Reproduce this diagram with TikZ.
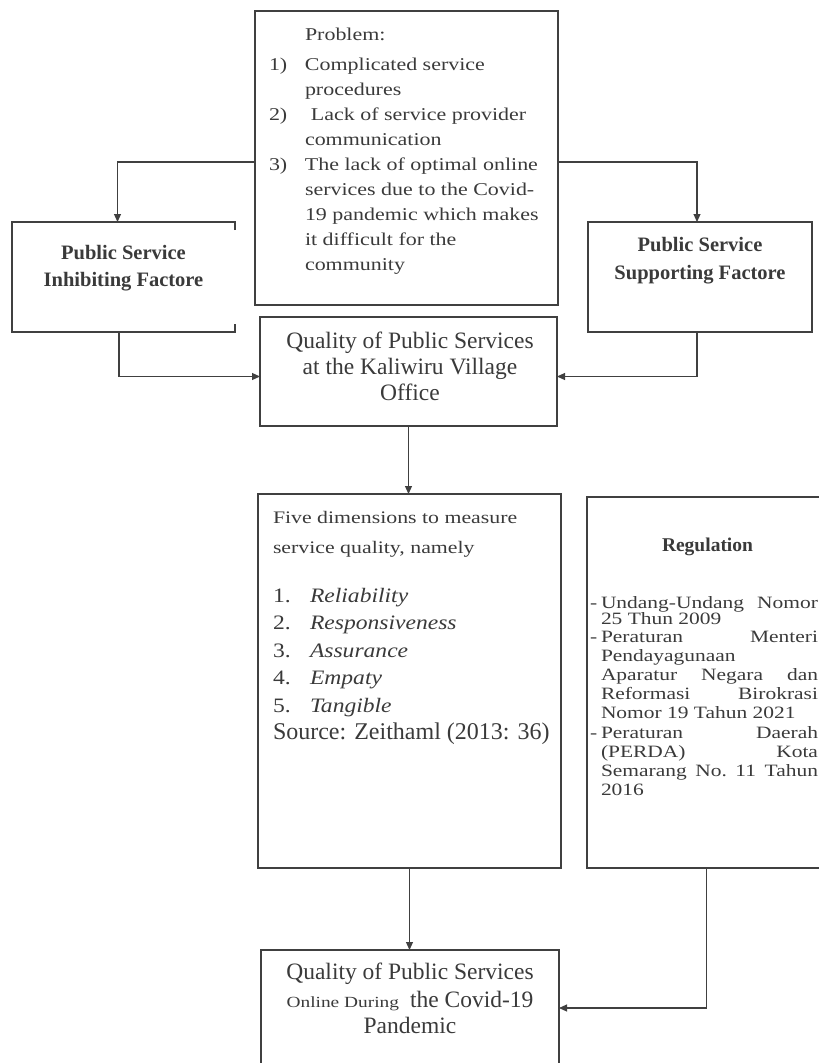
\documentclass[tikz,border=0pt]{standalone}
\usepackage{fontspec}
\setmainfont{Liberation Serif}
\newfontfamily\probfont{Liberation Serif}[FakeStretch=1.22]
\newfontfamily\introfont{Liberation Serif}[FakeStretch=1.24]
\newfontfamily\itemfont{Liberation Serif}[FakeStretch=1.15]
\newfontfamily\regfont{Liberation Serif}[FakeStretch=1.24]
\newfontfamily\smallfont{Liberation Serif}[FakeStretch=1.25]
\usetikzlibrary{arrows.meta,calc}
\definecolor{ink}{HTML}{3A3A3A}
\definecolor{linec}{HTML}{404040}
\begin{document}
\begin{tikzpicture}[x=1pt,y=-1pt,
  box/.style={draw=linec,line width=1.1pt,inner sep=0pt,outer sep=0pt},
  arr/.style={draw=linec,line width=1.1pt,-{Triangle[length=8pt,width=7pt]}},
  txt/.style={inner sep=0pt,outer sep=0pt,text=ink},
  regl/.style={txt,anchor=base west,font=\regfont\fontsize{17.3}{19.2}\selectfont},
]
\path[use as bounding box, clip] (0,0) rectangle (819,1063);

% boxes
\node[box,minimum width=303pt,minimum height=294pt] (prob) at (406.5,158) {};
\node[inner sep=0pt,outer sep=0pt,minimum width=223pt,minimum height=110pt] (inhib) at (123.5,277) {};
\draw[linec,line width=1.1pt] ([yshift=-8pt]inhib.north east) -- (inhib.north east) -- (inhib.north west) -- (inhib.south west) -- (inhib.south east) -- ([yshift=8pt]inhib.south east);
\node[box,minimum width=224pt,minimum height=110pt] (supp) at (700,277) {};
\node[box,minimum width=297pt,minimum height=109pt] (qual1) at (408.5,371.5) {};
\node[box,minimum width=303pt,minimum height=374pt] (five) at (409.5,681) {};
\node[box,minimum width=239pt,minimum height=371pt] (reg) at (706.5,682.5) {};
\node[box,minimum width=298pt,minimum height=116pt] (final) at (410,1008) {};

% connectors
\draw[arr] ([yshift=-4pt]prob.west) -| ([xshift=-6pt]inhib.north);
\draw[arr] ([yshift=-4pt]prob.east) -| ([xshift=-3pt]supp.north);
\draw[arr] ([xshift=-4.5pt]inhib.south) |- ([yshift=-5pt]qual1.west);
\draw[arr] ([xshift=-3pt]supp.south) |- ([yshift=-5pt]qual1.east);
\draw[arr] (qual1.south) -- (qual1.south |- five.north);
\draw[arr] (five.south) -- (five.south |- final.north);
\draw[arr] (reg.south) |- (final.east);

% problem text
\node[txt,anchor=base west] (ptitle) at (305,40) {\probfont\fontsize{18}{24}\selectfont Problem:};
\node[txt,anchor=base west] (plist) at (269,70) {\probfont\fontsize{18}{25.1}\selectfont
 \begin{tabular}[t]{@{}l@{}l@{}}
 \makebox[36pt][l]{1)} & Complicated service\\
  & procedures\\
 \makebox[36pt][l]{2)} & \hspace{6pt}Lack of service provider\\
  & communication\\
 \makebox[36pt][l]{3)} & The lack of optimal online\\
  & services due to the Covid-\\
  & 19 pandemic which makes\\
  & it difficult for the\\
  & community
 \end{tabular}};

% factor boxes text
\node[txt,anchor=base] (inhibt) at (123.5,259) {\bfseries\fontsize{20.5}{27}\selectfont
 \begin{tabular}[t]{@{}c@{}}Public Service\\Inhibiting Factore\end{tabular}};
\node[txt,anchor=base] (suppt) at (700,251) {\bfseries\fontsize{20.5}{28}\selectfont
 \begin{tabular}[t]{@{}c@{}}Public Service\\Supporting Factore\end{tabular}};

% quality 1 text
\node[txt,anchor=base] (qual1t) at (410,348) {\fontsize{23.5}{26}\selectfont
 \begin{tabular}[t]{@{}c@{}}Quality of Public Services\\at the Kaliwiru Village\\Office\end{tabular}};

% five dimensions text
\node[txt,anchor=base west] (fivei) at (273,523) {\introfont\fontsize{17.6}{30}\selectfont
 \begin{tabular}[t]{@{}l@{}}Five dimensions to measure\\service quality, namely\end{tabular}};
\node[txt,anchor=base west] (fivel) at (273,602) {\itemfont\fontsize{20.5}{27.5}\selectfont
 \begin{tabular}[t]{@{}l@{}l@{}}
 \makebox[37pt][l]{1.} & \textit{Reliability}\\
 \makebox[37pt][l]{2.} & \textit{Responsiveness}\\
 \makebox[37pt][l]{3.} & \textit{Assurance}\\
 \makebox[37pt][l]{4.} & \textit{Empaty}\\
 \makebox[37pt][l]{5.} & \textit{Tangible}
 \end{tabular}};
\node[txt,anchor=base west] (fives) at (273,739) {\fontsize{24}{27}\selectfont Source: Zeithaml (2013: 36)};

% regulation text
\node[txt,anchor=base] (regt) at (707.5,551) {\bfseries\fontsize{19.5}{22}\selectfont Regulation};
\node[regl] (rd1) at (590,608) {-};
\node[regl] (rd2) at (590,642) {-};
\node[regl] (rd3) at (590,738) {-};
\node[regl] (r1) at (601,608) {\hbox to 217pt{Undang-Undang\hfill Nomor}};
\node[regl] (r2) at (601,624) {25 Thun 2009};
\node[regl] (r3) at (601,642) {\hbox to 217pt{Peraturan\hfill Menteri}};
\node[regl] (r4) at (601,661.2) {Pendayagunaan};
\node[regl] (r5) at (601,680.4) {\hbox to 217pt{Aparatur\hfill Negara\hfill dan}};
\node[regl] (r6) at (601,699.6) {\hbox to 217pt{Reformasi\hfill Birokrasi}};
\node[regl] (r7) at (601,718.8) {Nomor 19 Tahun 2021};
\node[regl] (r8) at (601,738) {\hbox to 217pt{Peraturan\hfill Daerah}};
\node[regl] (r9) at (601,757.2) {\hbox to 217pt{(PERDA)\hfill Kota}};
\node[regl] (r10) at (601,776.4) {\hbox to 217pt{Semarang\hfill No.\hfill 11\hfill Tahun}};
\node[regl] (r11) at (601,795.6) {2016};

% final text
\node[txt,anchor=base] (fin1) at (410,979) {\fontsize{23.5}{26}\selectfont Quality of Public Services};
\node[txt,anchor=base] (fin2) at (410,1007) {{\smallfont\fontsize{15.5}{18}\selectfont Online During}\hspace{11pt}{\fontsize{23.5}{26}\selectfont the Covid-19}};
\node[txt,anchor=base] (fin3) at (410,1033) {\fontsize{23.5}{26}\selectfont Pandemic};
\end{tikzpicture}
\end{document}
